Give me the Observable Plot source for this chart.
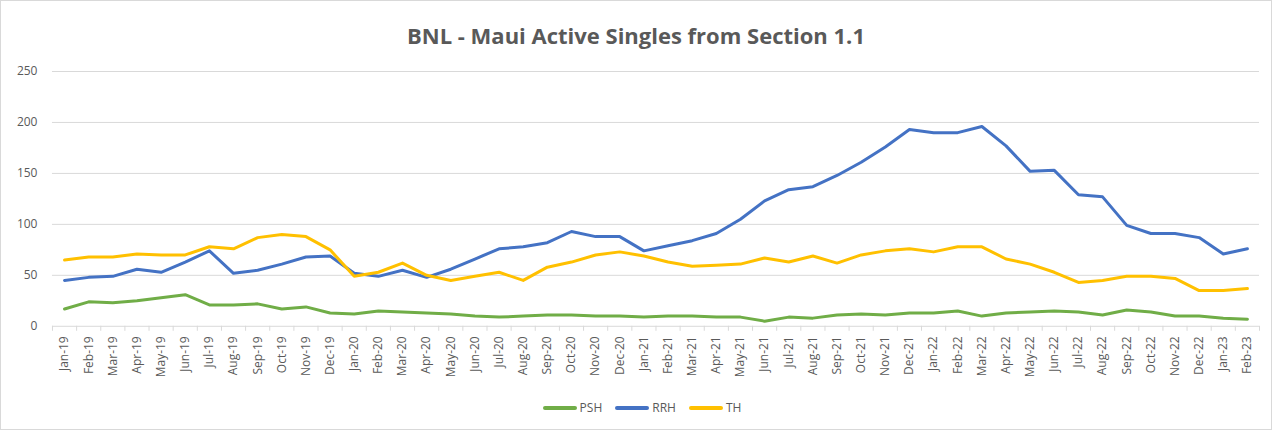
<!DOCTYPE html>
<html>
<head>
<meta charset="utf-8">
<script src="https://cdn.jsdelivr.net/npm/d3@7"></script>
<script src="https://cdn.jsdelivr.net/npm/@observablehq/plot@0.6"></script>
<style>
  html, body { margin: 0; padding: 0; background: #fff; }
  #frame { position: relative; width: 1272px; height: 430px; box-sizing: border-box; border: 1px solid #d9d9d9; background: #fff; overflow: hidden; font-family: "Open Sans", sans-serif; }
  #title { position: absolute; left: 0; right: 0; top: 19px; text-align: center; font-size: 22px; font-weight: bold; color: #595959; line-height: 30px; }
  #chart { position: absolute; left: -1px; top: 59px; }
  #legend { position: absolute; left: 0; right: 0; top: 398px; display: flex; justify-content: center; align-items: center; gap: 13px; font-size: 12px; color: #595959; padding-left: 12px; }
  .item { display: flex; align-items: center; gap: 3px; }
  .swatch { width: 34px; height: 4px; border-radius: 2px; }
</style>
</head>
<body>
<div id="frame">
  <div id="title">BNL - Maui Active Singles from Section 1.1</div>
  <div id="chart"></div>
  <div id="legend"></div>
</div>
<script>
const months = ["Jan-19","Feb-19","Mar-19","Apr-19","May-19","Jun-19","Jul-19","Aug-19","Sep-19","Oct-19","Nov-19","Dec-19",
  "Jan-20","Feb-20","Mar-20","Apr-20","May-20","Jun-20","Jul-20","Aug-20","Sep-20","Oct-20","Nov-20","Dec-20",
  "Jan-21","Feb-21","Mar-21","Apr-21","May-21","Jun-21","Jul-21","Aug-21","Sep-21","Oct-21","Nov-21","Dec-21",
  "Jan-22","Feb-22","Mar-22","Apr-22","May-22","Jun-22","Jul-22","Aug-22","Sep-22","Oct-22","Nov-22","Dec-22",
  "Jan-23","Feb-23"];
const seriesNames = ["PSH", "RRH", "TH"];
const seriesColors = ["#70AD47", "#4472C4", "#FFC000"];
const psh = [17,24,23,25,28,31,21,21,22,17,19,13,
  12,15,14,13,12,10,9,10,11,11,10,10,
  9,10,10,9,9,5,9,8,11,12,11,13,
  13,15,10,13,14,15,14,11,16,14,10,10,
  8,7];
const rrh = [45,48,49,56,53,63,74,52,55,61,68,69,
  52,49,55,48,56,66,76,78,82,93,88,88,
  74,79,84,91,105,123,134,137,148,161,176,193,
  190,190,196,177,152,153,129,127,99,91,91,87,
  71,76];
const th = [65,68,68,71,70,70,78,76,87,90,88,75,
  49,53,62,50,45,49,53,45,58,63,70,73,
  69,63,59,60,61,67,63,69,62,70,74,76,
  73,78,78,66,61,53,43,45,49,49,47,35,
  35,37];
const yTicks = [0, 50, 100, 150, 200, 250];

const values = [psh, rrh, th];
const data = seriesNames.flatMap((s, k) => months.map((m, i) => ({i, series: s, value: values[k][i]})));
const bounds = d3.range(months.length + 1).map(k => k - 0.5);

const chart = Plot.plot({
  width: 1272,
  height: 330,
  marginLeft: 52,
  marginRight: 12,
  marginTop: 11,
  marginBottom: 64,
  style: {fontFamily: "Open Sans, sans-serif", fontSize: "12px", color: "#595959", background: "transparent"},
  x: {type: "linear", domain: [-0.5, months.length - 0.5], label: null},
  y: {domain: [0, 250], label: null},
  color: {domain: seriesNames, range: seriesColors},
  marks: [
    Plot.gridY(yTicks, {stroke: "#d9d9d9", strokeOpacity: 1, strokeWidth: 1}),
    Plot.axisY(yTicks, {tickSize: 0, tickPadding: 15, label: null}),
    Plot.axisX(bounds, {tickSize: 5, tickFormat: () => "", stroke: "#d9d9d9", strokeOpacity: 1, label: null}),
    Plot.axisX(d3.range(months.length), {tickSize: 0, tickPadding: 10, tickRotate: -90, tickFormat: i => months[i], label: null}),
    Plot.line(data, {x: "i", y: "value", z: "series", stroke: "series", strokeWidth: 3, strokeLinejoin: "round", strokeLinecap: "round"})
  ]
});
document.getElementById("chart").appendChild(chart);

const legend = document.getElementById("legend");
seriesNames.forEach((s, k) => {
  const item = document.createElement("div");
  item.className = "item";
  const sw = document.createElement("div");
  sw.className = "swatch";
  sw.style.background = seriesColors[k];
  const t = document.createElement("span");
  t.textContent = s;
  item.appendChild(sw);
  item.appendChild(t);
  legend.appendChild(item);
});
</script>
</body>
</html>
